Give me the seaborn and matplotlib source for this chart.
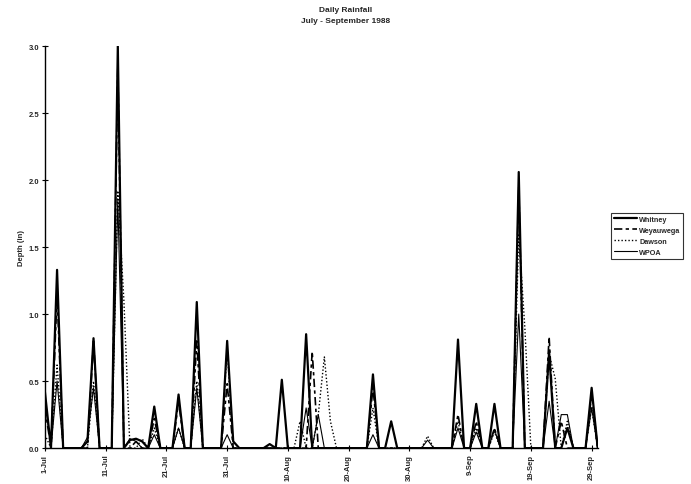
import pandas as pd
import numpy as np
import seaborn as sns
import matplotlib
matplotlib.use("Agg")
import matplotlib.pyplot as plt

# daily rainfall depth (in), 1-Jul .. 30-Sep 1988
whitney = (
    [0.42, 0, 1.33, 0, 0, 0, 0, 0.05, 0.82, 0, 0, 0, 3.00, 0, 0.06, 0.07, 0.05, 0, 0.31, 0, 0, 0, 0.40, 0, 0, 1.09, 0, 0, 0, 0, 0.80]
    + [0.05, 0, 0, 0, 0, 0, 0.03, 0, 0.51, 0, 0, 0, 0.85, 0, 0, 0, 0, 0, 0, 0, 0, 0, 0, 0.55, 0, 0, 0.20, 0, 0, 0, 0]
    + [0, 0, 0, 0, 0, 0, 0.81, 0, 0, 0.33, 0, 0, 0.33, 0, 0, 0, 2.06, 0, 0, 0, 0, 0.72, 0, 0, 0.15, 0, 0, 0, 0.45, 0]
)
weyauwega = (
    [0.30, 0, 1.15, 0, 0, 0, 0, 0, 0.80, 0, 0, 0, 2.85, 0, 0, 0.05, 0, 0, 0.22, 0, 0, 0, 0.35, 0, 0, 0.80, 0, 0, 0, 0, 0.48]
    + [0, 0, 0, 0, 0, 0, 0, 0, 0, 0, 0, 0, 0, 0.72, 0, 0, 0, 0, 0, 0, 0, 0, 0, 0.45, 0, 0, 0, 0, 0, 0, 0]
    + [0, 0, 0, 0, 0, 0, 0.25, 0, 0, 0.20, 0, 0, 0.15, 0, 0, 0, 1.95, 0, 0, 0, 0, 0.83, 0, 0.20, 0, 0, 0, 0, 0.40, 0]
)
dawson = (
    [0.10, 0, 0.62, 0, 0, 0, 0, 0, 0.50, 0, 0, 0, 1.92, 1.10, 0, 0, 0.07, 0, 0.15, 0, 0, 0, 0.15, 0, 0, 0.50, 0, 0, 0, 0, 0.75]
    + [0, 0, 0, 0, 0, 0, 0, 0, 0, 0, 0, 0.20, 0, 0, 0.25, 0.68, 0.20, 0, 0, 0, 0, 0, 0, 0.30, 0, 0, 0, 0, 0, 0, 0]
    + [0, 0.09, 0, 0, 0, 0, 0.20, 0, 0, 0.15, 0, 0, 0.12, 0, 0, 0, 1.60, 0.90, 0, 0, 0, 0.70, 0.52, 0, 0.20, 0, 0, 0, 0.30, 0]
)
wpoa = (
    [0.35, 0, 0.50, 0, 0, 0, 0, 0.08, 0.45, 0, 0, 0, 1.85, 0, 0.07, 0.05, 0, 0, 0.10, 0, 0, 0, 0.15, 0, 0, 0.45, 0, 0, 0, 0, 0.10]
    + [0, 0, 0, 0, 0, 0, 0, 0, 0, 0, 0, 0, 0.30, 0, 0.25, 0, 0, 0, 0, 0, 0, 0, 0, 0.10, 0, 0, 0, 0, 0, 0, 0]
    + [0, 0.06, 0, 0, 0, 0, 0.15, 0, 0, 0.12, 0, 0, 0.14, 0, 0, 0, 1.00, 0, 0, 0, 0, 0.35, 0, 0.25, 0.25, 0, 0, 0, 0.30, 0]
)

stations = ["Whitney", "Weyauwega", "Dawson", "WPOA"]
tick_labels = ["1-Jul", "11-Jul", "21-Jul", "31-Jul", "10-Aug",
               "20-Aug", "30-Aug", "9-Sep", "19-Sep", "29-Sep"]
y_ticks = [0.0, 0.5, 1.0, 1.5, 2.0, 2.5, 3.0]

day = np.arange(len(whitney))
df = pd.DataFrame({"day": day, "Whitney": whitney, "Weyauwega": weyauwega,
                   "Dawson": dawson, "WPOA": wpoa})

sns.set_style("white")
plt.rcParams["font.family"] = ["Liberation Sans", "DejaVu Sans"]

fig = plt.figure(figsize=(6.91, 4.85), dpi=100)
ax = fig.add_axes([0.065, 0.074, 0.8, 0.829])

styles = {
    "Whitney": dict(linestyle="-", linewidth=1.6),
    "Weyauwega": dict(linestyle=(0, (5, 2, 2, 2)), linewidth=1.2),
    "Dawson": dict(linestyle=(0, (1, 1.5)), linewidth=1.0),
    "WPOA": dict(linestyle="-", linewidth=0.8),
}
for name in stations:
    sns.lineplot(data=df, x="day", y=name, ax=ax, color="black",
                 label=name, **styles[name])

ax.set_xlim(0, 91)
ax.set_ylim(0, 3.0)
ax.set_xticks(np.arange(0, 91, 10))
ax.set_xticklabels(tick_labels, rotation=90, fontsize=5.5, fontweight="bold")
ax.set_yticks(y_ticks)
ax.set_yticklabels([f"{v:.1f}" for v in y_ticks], fontsize=5.5, fontweight="bold")
ax.tick_params(axis="both", direction="inout", length=4, width=0.8, color="black", pad=2)
ax.tick_params(axis="y", left=True)
ax.tick_params(axis="x", bottom=True)
ax.set_xlabel("")
ax.set_ylabel("Depth (in)", fontsize=5.5, fontweight="bold", labelpad=3)
sns.despine(ax=ax)
for s in ["left", "bottom"]:
    ax.spines[s].set_color("black")
    ax.spines[s].set_linewidth(1.0)

fig.text(0.5, 0.985, "Daily Rainfall", ha="center", va="top",
         fontsize=6, fontweight="bold")
fig.text(0.5, 0.963, "July - September 1988", ha="center", va="top",
         fontsize=6, fontweight="bold")

handles, labels = ax.get_legend_handles_labels()
ax.get_legend().remove()
leg = fig.legend(handles, labels, loc="upper left", bbox_to_anchor=(0.882, 0.562),
                 frameon=True, fancybox=False, edgecolor="black",
                 prop={"size": 5.2, "weight": "bold"}, handlelength=3.2,
                 handletextpad=0.3, borderpad=0.4, labelspacing=0.55,
                 borderaxespad=0.2)
leg.get_frame().set_linewidth(0.8)

fig.savefig("out.png", dpi=100, facecolor="white")
